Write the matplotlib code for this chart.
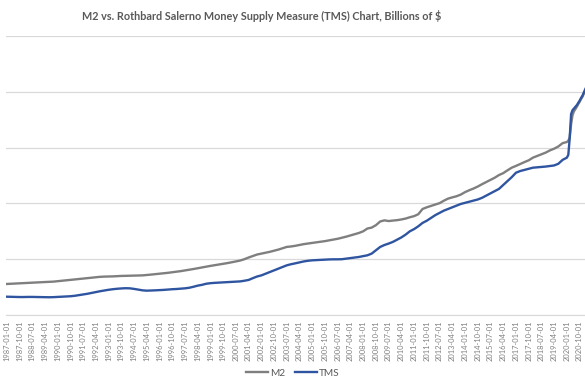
import matplotlib.pyplot as plt
import numpy as np
import pandas as pd

# quarterly through 2019, monthly for 2020 and early 2021 (billions of $)
q_dates = pd.date_range('1987-01-01', '2019-10-01', freq='QS-JAN')
m_dates = pd.date_range('2020-01-01', '2021-02-01', freq='MS')
dates = q_dates.append(m_dates)

m2 = [2780, 2800, 2820, 2840, 2860, 2880, 2900, 2920, 2935, 2950, 2965, 2990,
      3030, 3070, 3110, 3150, 3190, 3230, 3270, 3310, 3350, 3390, 3420, 3440,
      3450, 3460, 3480, 3500, 3510, 3520, 3530, 3540, 3550, 3580, 3620, 3660,
      3700, 3740, 3780, 3830, 3880, 3930, 3990, 4050, 4120, 4190, 4260, 4330,
      4400, 4460, 4520, 4580, 4650, 4720, 4800, 4880, 5000, 5150, 5280, 5420,
      5500, 5570, 5660, 5760, 5860, 5980, 6100, 6140, 6200, 6280, 6350, 6410,
      6460, 6510, 6560, 6620, 6690, 6760, 6830, 6920, 7020, 7130, 7240, 7350,
      7500, 7750, 7830, 8050, 8380, 8480, 8420, 8460, 8500, 8560, 8640, 8760,
      8860, 9030, 9500, 9650, 9780, 9900, 10020, 10240, 10430, 10540, 10640, 10790,
      11010, 11180, 11330, 11510, 11720, 11910, 12110, 12300, 12540, 12710, 12960, 13200,
      13360, 13530, 13700, 13860, 14100, 14250, 14400, 14550, 14750, 14900, 15100, 15400,
      15500, 15620, 15900, 17100, 17900, 18250, 18450, 18650, 18900, 19100, 19350, 19550,
      19850, 20050]

tms = [1640, 1630, 1620, 1610, 1610, 1620, 1620, 1610, 1600, 1590, 1590, 1600,
       1620, 1640, 1660, 1680, 1720, 1780, 1840, 1900, 1980, 2060, 2130, 2200,
       2260, 2310, 2350, 2380, 2400, 2390, 2340, 2270, 2210, 2180, 2190, 2210,
       2230, 2250, 2280, 2310, 2330, 2360, 2390, 2440, 2530, 2630, 2700, 2800,
       2850, 2880, 2900, 2930, 2950, 2960, 2980, 3010, 3070, 3140, 3300, 3450,
       3550, 3700, 3850, 4000, 4150, 4300, 4450, 4550, 4630, 4720, 4800, 4860,
       4900, 4920, 4950, 4970, 4980, 4990, 4990, 5000, 5050, 5100, 5150, 5200,
       5280, 5350, 5500, 5800, 6100, 6270, 6400, 6550, 6750, 6950, 7200, 7500,
       7700, 7950, 8250, 8450, 8700, 8950, 9150, 9350, 9500, 9650, 9800, 9950,
       10050, 10150, 10250, 10350, 10500, 10700, 10900, 11100, 11300, 11650, 12000, 12350,
       12750, 12900, 13000, 13100, 13200, 13230, 13260, 13300, 13350, 13400, 13550, 13900,
       14100, 14350, 15800, 18000, 18350, 18500, 18650, 18800, 19000, 19200, 19450, 19650,
       19950, 20250]

tick_dates = pd.date_range('1987-01-01', '2020-10-01', freq='9MS')

plt.rcParams['font.family'] = ['Lato', 'DejaVu Sans']
fig = plt.figure(figsize=(5.85, 3.9), dpi=100)
ax = fig.add_axes([6/585, 75/390, 579/585, 279/390])

ax.plot(dates, m2, color='#7f7f7f', linewidth=1.7, label='M2')
ax.plot(dates, tms, color='#2f55a0', linewidth=1.7, label='TMS')

ax.set_ylim(0, 25000)
ax.set_yticks(np.arange(0, 25001, 5000))
ax.set_yticklabels([])
ax.set_xlim(pd.Timestamp('1986-12-16'), pd.Timestamp('2021-01-25'))
ax.set_xticks(tick_dates)
ax.set_xticklabels([d.strftime('%Y-%m-%d') for d in tick_dates], rotation=90,
                   fontsize=5.4, color='#808080')
ax.tick_params(length=0, pad=4)
ax.grid(axis='y', color='#d9d9d9', linewidth=0.9)
ax.set_axisbelow(True)
for s in ['top', 'right', 'left']:
    ax.spines[s].set_visible(False)
ax.spines['bottom'].set_color('#d9d9d9')

# the source chart is cropped on the right, so the title sits left of centre
fig.text(262/585, 0.958, 'M2 vs. Rothbard Salerno Money Supply Measure (TMS) Chart, Billions of $',
         ha='center', va='center', fontsize=7.8, fontweight='bold', color='#595959')
fig.legend(loc='center', bbox_to_anchor=(293/585, 17/390), ncol=2, frameon=False,
           fontsize=7.2, handlelength=2.2, columnspacing=1.0, handletextpad=0.2,
           labelcolor='#595959')

fig.savefig('out.png', dpi=100)
